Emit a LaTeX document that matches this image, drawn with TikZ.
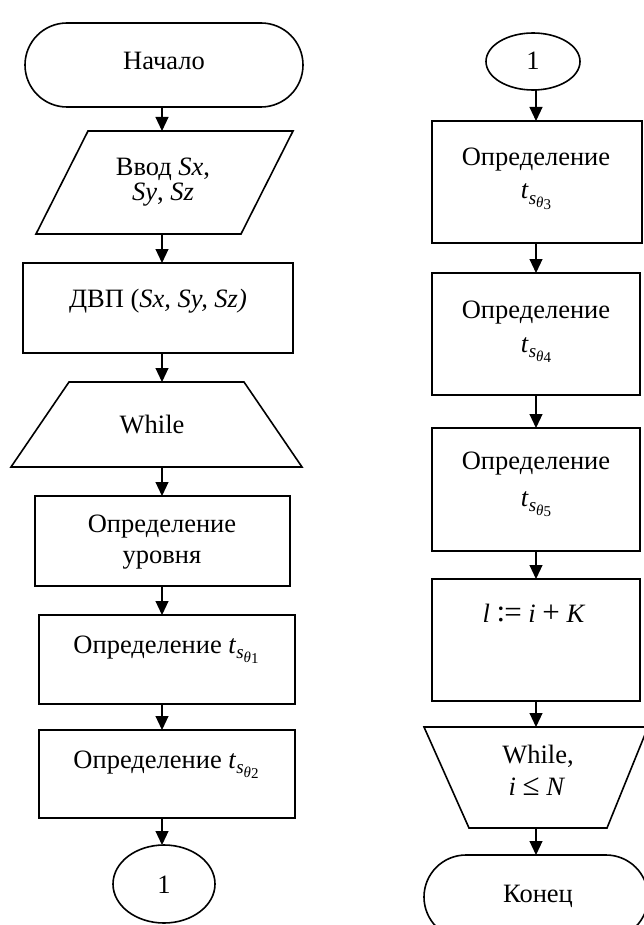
\documentclass[tikz,border=0pt]{standalone}
\usepackage{fontspec}
\setmainfont{Liberation Serif}
\usetikzlibrary{arrows.meta,calc,shapes.geometric}
\newcommand{\myts}[1]{\textit{t}\raisebox{-5.5pt}{\fontsize{19}{19}\selectfont\textit{s}\raisebox{-3.5pt}{\fontsize{15}{15}\selectfont\textit{θ}\raisebox{-1.5pt}{#1}}}}
\newcommand{\bigsym}[1]{{\fontsize{31}{31}\selectfont #1}}
\begin{document}
\begin{tikzpicture}[x=1pt,y=-1pt,
  shp/.style={draw, line width=1.6pt, inner sep=0pt, outer sep=0pt},
  ghost/.style={inner sep=0pt, outer sep=0pt},
  poly/.style={draw, line width=1.6pt, line join=miter},
  txt/.style={inner sep=0pt, anchor=base, font=\fontsize{26.5}{31}\selectfont},
  arr/.style={line width=1.1pt, -{Triangle[length=14pt,width=13pt]}},
]
\useasboundingbox (0,0) rectangle (644,925);
\clip (0,0) rectangle (644,925);
\coordinate (colL) at (162,0);
\coordinate (colR) at (536,0);

% ---------- left column ----------
\node[shp, minimum width=278pt, minimum height=84pt, rounded corners=42pt] (start) at (164,65) {};
\node[txt] (startT) at (164,70) {Начало};

\node[ghost, minimum width=257pt, minimum height=103pt] (in) at (164.5,182.5) {};
\draw[poly] ($(in.north west)+(52,0)$) -- (in.north east) -- ($(in.south east)+(-52,0)$) -- (in.south west) -- cycle;
\node[txt] (inT1) at (163,176) {Ввод \textit{Sx},};
\node[txt] (inT2) at (163,201) {\textit{Sy}, \textit{Sz}};

\node[shp, minimum width=270pt, minimum height=90pt] (dvp) at (158,308) {};
\node[txt] (dvpT) at (158,307) {ДВП (\textit{Sx, Sy, Sz)}};

\node[ghost, minimum width=291pt, minimum height=85pt] (wh1) at (156.5,424.5) {};
\draw[poly] ($(wh1.north west)+(58,0)$) -- ($(wh1.north east)+(-58,0)$) -- (wh1.south east) -- (wh1.south west) -- cycle;
\node[txt] (wh1T) at (152,433) {While};

\node[shp, minimum width=255pt, minimum height=90pt] (lvl) at (162.5,541) {};
\node[txt] (lvlT1) at (162,532) {Определение};
\node[txt] (lvlT2) at (162,563) {уровня};

\node[shp, minimum width=256pt, minimum height=89pt] (ta) at (167,659.5) {};
\node[txt] (taT) at (166,653) {Определение \myts{1}};

\node[shp, minimum width=256pt, minimum height=88pt] (tb) at (167,774) {};
\node[txt] (tbT) at (166,768) {Определение \myts{2}};

\node[shp, ellipse, minimum width=102pt, minimum height=78pt] (c1) at (164,884) {};
\node[txt] (c1T) at (164,893) {1};

\draw[arr] (start.south -| colL) -- (in.north -| colL);
\draw[arr] (in.south -| colL) -- (dvp.north -| colL);
\draw[arr] (dvp.south -| colL) -- (wh1.north -| colL);
\draw[arr] (wh1.south -| colL) -- (lvl.north -| colL);
\draw[arr] (lvl.south -| colL) -- (ta.north -| colL);
\draw[arr] (ta.south -| colL) -- (tb.north -| colL);
\draw[arr] (tb.south -| colL) -- (c1.north -| colL);

% ---------- right column ----------
\node[shp, ellipse, minimum width=94pt, minimum height=57pt] (c2) at (533,61.5) {};
\node[txt] (c2T) at (533,70) {1};

\node[shp, minimum width=210pt, minimum height=122pt] (tc) at (537,182) {};
\node[txt] (tcT1) at (536,166) {Определение};
\node[txt] (tcT2) at (536,199) {\myts{3}};

\node[shp, minimum width=208pt, minimum height=122pt] (td) at (536,334) {};
\node[txt] (tdT1) at (536,318) {Определение};
\node[txt] (tdT2) at (536,352) {\myts{4}};

\node[shp, minimum width=208pt, minimum height=123pt] (te) at (536,489.5) {};
\node[txt] (teT1) at (536,469) {Определение};
\node[txt] (teT2) at (536,506) {\myts{5}};

\node[shp, minimum width=208pt, minimum height=122pt] (lk) at (536,640) {};
\node[txt] (lkT) at (534,622) {\textit{l} \bigsym{\raisebox{1pt}{:}\kern-1pt=} \textit{i} \bigsym{+} \textit{K}};

\node[ghost, minimum width=224pt, minimum height=101pt] (wh2) at (536,777.5) {};
\draw[poly] (wh2.north west) -- (wh2.north east) -- ($(wh2.south east)+(-41,0)$) -- ($(wh2.south west)+(45,0)$) -- cycle;
\node[txt] (wh2T1) at (538,763) {While,};
\node[txt] (wh2T2) at (537,795) {\textit{i} \bigsym{≤} \textit{N}};

\node[shp, minimum width=224pt, minimum height=84pt, rounded corners=42pt] (end) at (536,897) {};
\node[txt] (endT) at (538,902) {Конец};

\draw[arr] (c2.south -| colR) -- (tc.north -| colR);
\draw[arr] (tc.south -| colR) -- (td.north -| colR);
\draw[arr] (td.south -| colR) -- (te.north -| colR);
\draw[arr] (te.south -| colR) -- (lk.north -| colR);
\draw[arr] (lk.south -| colR) -- (wh2.north -| colR);
\draw[arr] (wh2.south -| colR) -- (end.north -| colR);
\end{tikzpicture}
\end{document}
